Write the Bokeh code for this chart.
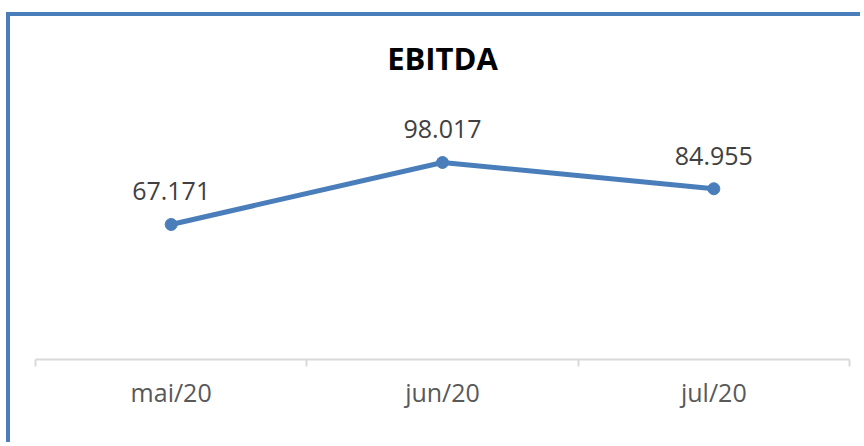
from bokeh.plotting import figure
from bokeh.models import Range1d, FixedTicker, ColumnDataSource
from bokeh.core.properties import value
from bokeh.embed import file_html
from bokeh.resources import INLINE

# ---- data ----
categories = ["mai/20", "jun/20", "jul/20"]
ebitda = [67.171, 98.017, 84.955]
value_labels = ["67.171", "98.017", "84.955"]
title_text = ["EBITDA"]

# ---- layout constants ----
W, H = 854, 430
L, R, T, B = 25, 15, 0, 87
frame_w = W - L - R
frame_h = H - T - B
px_y = 2.01
ymax = frame_h / px_y
n = len(categories)

xs = [i + 0.5 for i in range(n)]
src = ColumnDataSource(dict(x=xs, y=ebitda, lab=value_labels))

blue = "#4A7EBB"
p = figure(width=W, height=H, output_backend="svg", toolbar_location=None,
           x_range=Range1d(0, n), y_range=Range1d(0, ymax),
           min_border_left=L, min_border_right=R, min_border_top=T, min_border_bottom=B,
           outline_line_color=None, background_fill_color="white", border_fill_color="white")
p.styles = {"margin-left": "6px", "margin-top": "12px",
            "border-left": "4px solid " + blue, "border-top": "4px solid " + blue}
p.xgrid.visible = False
p.ygrid.visible = False
p.yaxis.visible = False

p.line("x", "y", source=src, line_color=blue, line_width=5)
p.scatter("x", "y", source=src, size=12, fill_color=blue, line_color=blue)
p.text("x", "y", text="lab", source=src, text_align="center", text_baseline="alphabetic",
       y_offset=-33, text_font=value("Open Sans"), text_font_size="25px", text_color="#404040")

# title inside the frame
title_y = (frame_h - (57 - 16)) / px_y
p.text(x=[n / 2], y=[title_y], text=title_text, text_align="center", text_baseline="middle",
       text_font=value("Open Sans"), text_font_style="bold", text_font_size="31px",
       text_color="#000000")

ax = p.xaxis[0]
ax.ticker = FixedTicker(ticks=xs, minor_ticks=list(range(n + 1)))
ax.major_label_overrides = {x: c for x, c in zip(xs, categories)}
ax.axis_line_color = "#D9D9D9"
ax.axis_line_width = 2
ax.major_tick_out = 0
ax.major_tick_in = 0
ax.major_tick_line_color = None
ax.minor_tick_in = 0
ax.minor_tick_out = 7
ax.minor_tick_line_color = "#D9D9D9"
ax.minor_tick_line_width = 2
ax.major_label_text_font = "Open Sans"
ax.major_label_text_font_size = "25px"
ax.major_label_text_color = "#595959"
ax.major_label_standoff = 8

open("out.html", "w").write(file_html(p, INLINE))
